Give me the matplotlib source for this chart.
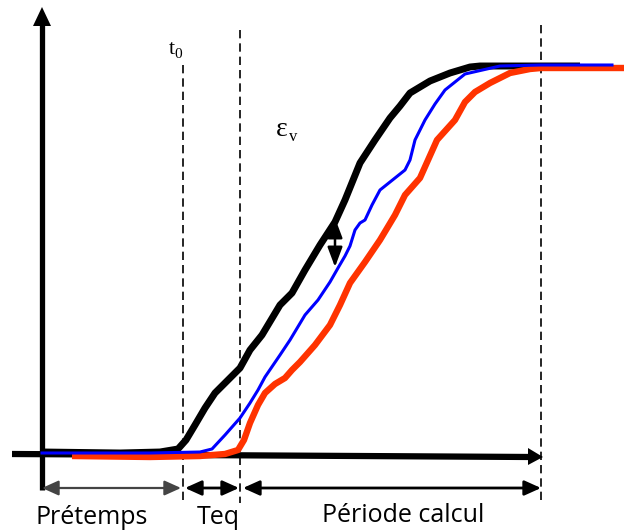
import matplotlib
matplotlib.use("Agg")
import matplotlib.pyplot as plt

# schematic drawn in pixel units of the original picture (y grows downward)
black_x = [42, 120, 160, 178, 186, 195, 205, 215, 228, 240, 250, 262, 280, 292, 305, 320, 335, 345,
           360, 375, 390, 400, 410, 430, 450, 470, 480, 541, 580]
black_y = [452, 453, 452, 449, 440, 425, 408, 393, 380, 368, 350, 335, 305, 293, 270, 245, 222, 200,
           163, 140, 118, 106, 93, 81, 73, 67, 66, 66, 66]

blue_x = [42, 150, 200, 212, 225, 240, 250, 258, 265, 280, 290, 305, 318, 330, 338, 345, 350, 355,
          360, 365, 372, 380, 395, 405, 410, 415, 425, 435, 445, 465, 500, 541, 612]
blue_y = [453, 453, 452, 449, 435, 418, 403, 390, 377, 355, 340, 315, 300, 282, 268, 256, 246, 230,
          223, 220, 205, 190, 178, 170, 160, 140, 120, 104, 90, 74, 66, 65, 65]

red_x = [72, 150, 200, 225, 238, 244, 250, 258, 265, 275, 285, 292, 300, 315, 330, 340, 350, 365,
         380, 395, 405, 420, 437, 455, 465, 475, 490, 510, 530, 541, 624]
red_y = [456, 457, 456, 454, 450, 440, 423, 405, 393, 384, 378, 370, 362, 345, 325, 305, 283, 262,
         240, 215, 195, 178, 140, 120, 102, 92, 83, 73, 69, 68, 68]

t0_x = 183
teq_x = 240
end_x = 541
base_y = 455

fig = plt.figure(figsize=(6.24, 5.31), dpi=100)
ax = fig.add_axes([0, 0, 1, 1])
ax.set_xlim(0, 624)
ax.set_ylim(531, 0)
ax.axis("off")

# dashed markers
ax.plot([t0_x, t0_x], [65, 503], color="black", lw=1.2, ls=(0, (5, 3)))
ax.plot([teq_x, teq_x], [30, 503], color="black", lw=1.2, ls=(0, (5, 3)))
ax.plot([end_x, end_x], [25, 503], color="black", lw=1.2, ls=(0, (5, 3)))

# axes arrows
ax.plot([42, 42], [490, 24], color="black", lw=3.8, solid_capstyle="butt")
ax.fill([33, 51, 42], [26, 26, 7], color="black", lw=0)
ax.plot([12, 530], [base_y - 1, base_y + 2], color="black", lw=4.5, solid_capstyle="butt")
ax.fill([528, 528, 543], [base_y - 7, base_y + 10, base_y + 2], color="black", lw=0)

# curves
ax.plot(black_x, black_y, color="black", lw=5, solid_capstyle="butt", solid_joinstyle="round")
ax.plot(red_x, red_y, color="#ff3300", lw=4.6, solid_capstyle="butt", solid_joinstyle="round")
ax.plot(blue_x, blue_y, color="#0000ff", lw=2.2, solid_joinstyle="round")

# deviation arrow
ax.annotate("", xy=(335, 267), xytext=(335, 218),
            arrowprops=dict(arrowstyle="<|-|>,head_length=1.2,head_width=0.45", lw=1.8,
                            color="black", shrinkA=0, shrinkB=0, mutation_scale=10))

# period arrows
ax.annotate("", xy=(42, 488), xytext=(181, 488),
            arrowprops=dict(arrowstyle="<|-|>,head_length=1.0,head_width=0.45", lw=1.6,
                            color="#444444", shrinkA=0, shrinkB=0, mutation_scale=10))
ax.annotate("", xy=(185, 488), xytext=(239, 488),
            arrowprops=dict(arrowstyle="<|-|>,head_length=1.0,head_width=0.45", lw=2,
                            color="black", shrinkA=0, shrinkB=0, mutation_scale=10))
ax.annotate("", xy=(243, 488), xytext=(541, 488),
            arrowprops=dict(arrowstyle="<|-|>,head_length=1.0,head_width=0.45", lw=2,
                            color="black", shrinkA=0, shrinkB=0, mutation_scale=10))

# labels
serif = "Liberation Serif"
ax.text(172, 50, "t", fontsize=16, family=serif, ha="center", va="center")
ax.text(178.5, 55, "0", fontsize=11, family=serif, ha="center", va="center")
ax.text(282, 130, "ε", fontsize=20, family=serif, ha="center", va="center")
ax.text(293, 137, "v", fontsize=12, family=serif, ha="center", va="center")
ax.text(92, 518, "Prétemps", fontsize=18, family="Open Sans", ha="center", va="center")
ax.text(218, 518, "Teq", fontsize=18, family="Open Sans", ha="center", va="center")
ax.text(403, 516, "Période calcul", fontsize=18, family="Open Sans", ha="center", va="center")

fig.savefig("out.png", dpi=100)
